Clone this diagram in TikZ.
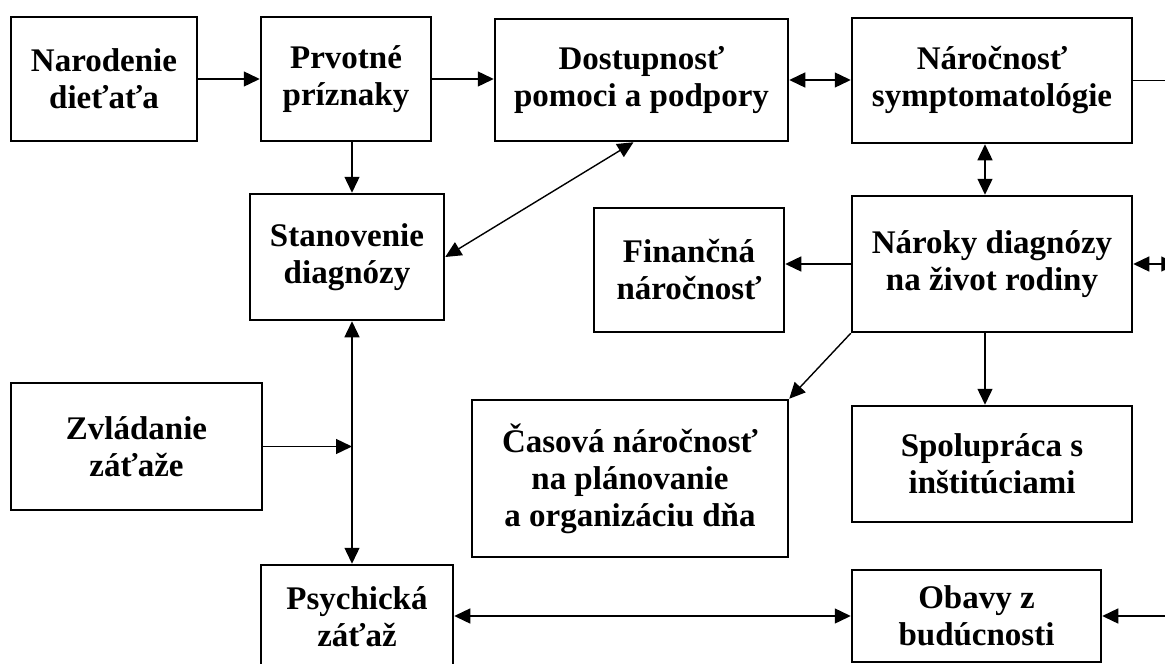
\documentclass[tikz,border=0pt]{standalone}
\usepackage{fontspec}
\setmainfont{Liberation Serif}
\usetikzlibrary{arrows.meta,calc}
\begin{document}
\begin{tikzpicture}[x=1pt,y=-1pt,
  box/.style={draw,line width=2.5pt,align=center,inner sep=0pt,
    font=\bfseries\fontsize{33}{37}\selectfont},
  conn/.style={line width=1.4pt,-{Triangle[length=16pt,width=15pt]}},
  dconn/.style={line width=1.4pt,{Triangle[length=16pt,width=15pt]}-{Triangle[length=16pt,width=15pt]}},
  plain/.style={line width=1.4pt}]
\useasboundingbox (0,0) rectangle (1165,664);
\clip (0,0) rectangle (1165,664);
\node[box,minimum width=186pt,minimum height=124pt] (A) at (104,79) {Narodenie\\dieťaťa};
\node[box,minimum width=170pt,minimum height=124pt] (B) at (346,79) {Prvotné\\príznaky};
\node[box,minimum width=293pt,minimum height=122pt] (C) at (641.5,80) {Dostupnosť\\pomoci a podpory};
\node[box,minimum width=280pt,minimum height=125pt] (D) at (992,80.5) {Náročnosť\\symptomatológie};
\node[box,minimum width=194pt,minimum height=126pt] (E) at (347,257) {Stanovenie\\diagnózy};
\node[box,minimum width=190pt,minimum height=124pt] (F) at (689,270) {Finančná\\náročnosť};
\node[box,minimum width=280pt,minimum height=136pt] (G) at (992,264) {Nároky diagnózy\\na život rodiny};
\node[box,minimum width=251pt,minimum height=127pt] (H) at (136.5,446.5) {Zvládanie\\záťaže};
\node[box,minimum width=316pt,minimum height=157pt] (I) at (630,478.5) {Časová náročnosť\\na plánovanie\\a organizáciu dňa};
\node[box,minimum width=280pt,minimum height=116pt] (J) at (992,464) {Spolupráca s\\inštitúciami};
\node[box,minimum width=192pt,minimum height=104pt] (K) at (357,617) {Psychická\\záťaž};
\node[box,minimum width=249pt,minimum height=92pt] (L) at (976.5,616) {Obavy z\\budúcnosti};
% coordinates
\coordinate (bx) at ([xshift=6pt]B.south);
\coordinate (ex) at (bx |- E.north);
\coordinate (es) at (bx |- E.south);
\coordinate (kn) at (bx |- K.north);
\coordinate (hm) at (bx |- H.east);
\coordinate (cs) at ([xshift=-8pt]C.south);
\coordinate (dx) at ([xshift=-7pt]D.south);
\coordinate (gn) at (dx |- G.north);
\coordinate (gs) at (dx |- G.south);
\coordinate (jn) at (dx |- J.north);
\coordinate (dout) at ([xshift=60pt]D.east);
\coordinate (gout) at ([xshift=44pt]G.east);
\coordinate (lin) at ([xshift=80pt]L.east);
% connectors
\draw[conn] (A.east) -- (A.east -| B.west);
\draw[conn] (B.east) -- (B.east -| C.west);
\draw[dconn] (C.east) -- (C.east -| D.west);
\draw[conn] (bx) -- (ex);
\draw[dconn] (cs) -- (E.east);
\draw[dconn] (dx) -- (gn);
\draw[conn] (G.west) -- (G.west -| F.east);
\draw[conn] (G.south west) -- (I.north east);
\draw[conn] (gs) -- (jn);
\draw[dconn] (es) -- (kn);
\draw[conn] (H.east) -- (hm);
\draw[dconn] (L.west -| K.east) -- (L.west);
\draw[plain] (D.east) -- (dout);
\draw[dconn] (G.east) -- (gout);
\draw[conn] (lin) -- (L.east);
\end{tikzpicture}
\end{document}
